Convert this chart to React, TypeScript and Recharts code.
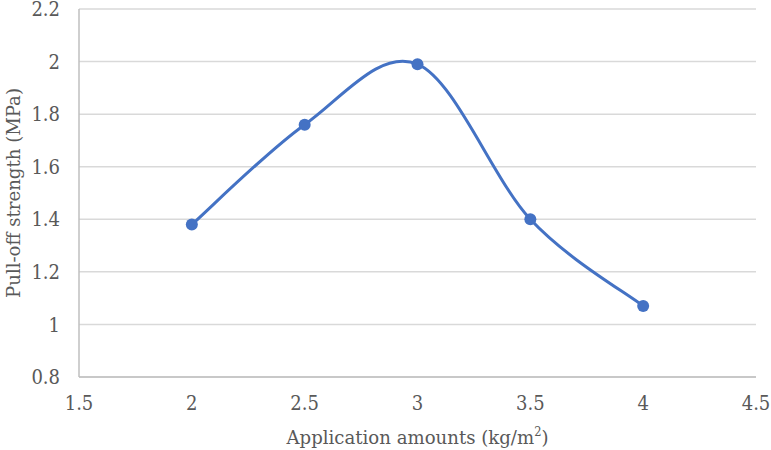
import { CartesianGrid, Label, Line, LineChart, XAxis, YAxis } from "recharts"

// #region data
const amounts = [2, 2.5, 3, 3.5, 4]
const strength = [1.38, 1.76, 1.99, 1.4, 1.07]
const xTicks = [1.5, 2, 2.5, 3, 3.5, 4, 4.5]
const yTicks = [0.8, 1, 1.2, 1.4, 1.6, 1.8, 2, 2.2]
// #endregion

const data = amounts.map((a, i) => ({ amount: a, strength: strength[i] }))

const FONT = "DejaVu Serif Condensed, DejaVu Serif, serif"
const TEXT = "#595959"

// excel style smooth line (bezier with 1/6 control points)
const excelCurve = (ctx: any) => {
  let pts: number[][] = []
  return {
    areaStart() {},
    areaEnd() {},
    lineStart() { pts = [] },
    point(x: number, y: number) { pts.push([+x, +y]) },
    lineEnd() {
      if (!pts.length) return
      ctx.moveTo(pts[0][0], pts[0][1])
      for (let i = 0; i < pts.length - 1; i++) {
        const p0 = pts[i - 1] || pts[i]
        const p1 = pts[i]
        const p2 = pts[i + 1]
        const p3 = pts[i + 2] || pts[i + 1]
        ctx.bezierCurveTo(
          p1[0] + (p2[0] - p0[0]) / 6, p1[1] + (p2[1] - p0[1]) / 6,
          p2[0] - (p3[0] - p1[0]) / 6, p2[1] - (p3[1] - p1[1]) / 6,
          p2[0], p2[1]
        )
      }
    },
  }
}

function XLabel(props: any) {
  const vb = props.viewBox
  return (
    <text x={vb.x + vb.width / 2} y={vb.y + 67} textAnchor="middle" fill={TEXT} fontFamily={FONT} fontSize={19}
      textLength={262} lengthAdjust="spacingAndGlyphs">
      Application amounts (kg/m<tspan fontSize={12} dy={-8}>2</tspan><tspan dy={8}>)</tspan>
    </text>
  )
}

function YLabel(props: any) {
  const vb = props.viewBox
  const cx = 13
  const cy = vb.y + vb.height / 2
  return (
    <text x={cx} y={cy} transform={`rotate(-90 ${cx} ${cy})`} textAnchor="middle" dominantBaseline="central"
      fill={TEXT} fontFamily={FONT} fontSize={19} textLength={210} lengthAdjust="spacingAndGlyphs">
      Pull-off strength (MPa)
    </text>
  )
}

function App() {
  const tick = { fill: TEXT, fontSize: 20, fontFamily: FONT }
  return (
    <div style={{ position: "absolute", left: 0, top: 0, background: "#fff" }}>
      <LineChart width={771} height={450} data={data} margin={{ top: 9, right: 15, left: 0, bottom: 0 }}>
        <CartesianGrid vertical={false} stroke="#d9d9d9" strokeWidth={1.5} />
        <XAxis
          dataKey="amount"
          type="number"
          domain={[1.5, 4.5]}
          ticks={xTicks}
          height={73}
          tickLine={false}
          tickSize={0}
          tickMargin={19}
          stroke="#bfbfbf"
          strokeWidth={1.5}
          tick={tick}
          interval={0}
        >
          <Label content={<XLabel />} />
        </XAxis>
        <YAxis
          type="number"
          domain={[0.8, 2.2]}
          ticks={yTicks}
          width={79}
          tickLine={false}
          tickSize={0}
          tickMargin={19}
          stroke="#bfbfbf"
          strokeWidth={1.5}
          tick={tick}
          interval={0}
        >
          <Label content={<YLabel />} />
        </YAxis>
        <Line
          dataKey="strength"
          type={excelCurve as any}
          stroke="#4472C4"
          strokeWidth={3}
          dot={{ r: 6, fill: "#4472C4", stroke: "#4472C4", strokeWidth: 0 }}
          activeDot={false}
          isAnimationActive={false}
        />
      </LineChart>
    </div>
  )
}

export default App
